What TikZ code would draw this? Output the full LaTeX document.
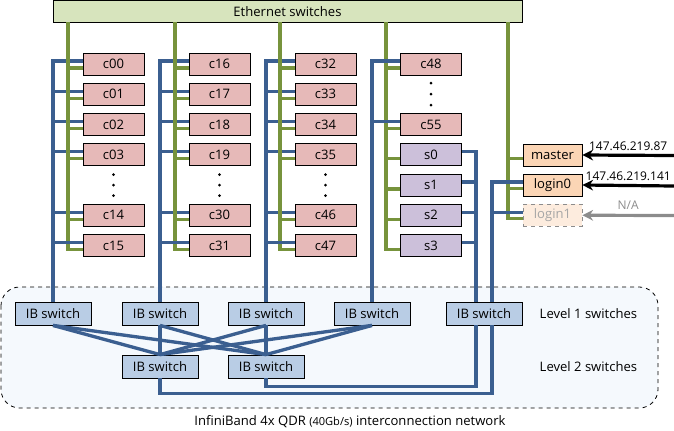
\documentclass[tikz,border=0pt]{standalone}
\usepackage{fontspec}
\setmainfont{Open Sans}
\usetikzlibrary{calc,arrows.meta}
\definecolor{ethline}{HTML}{77933C}
\definecolor{ethfill}{HTML}{D7E4BD}
\definecolor{ibline}{HTML}{3B5F90}
\definecolor{ibfill}{HTML}{B9CDE5}
\definecolor{cfill}{HTML}{E6B9B8}
\definecolor{sfill}{HTML}{CCC0DA}
\definecolor{mfill}{HTML}{FBD5B5}
\definecolor{netfill}{HTML}{F5F9FD}

\begin{document}
\begin{tikzpicture}[x=0.75pt, y=-0.75pt, font=\fontsize{9.8}{11}\selectfont,
	box/.style={draw=black, line width=0.6pt, inner sep=0pt, minimum height=16.5pt},
	cbox/.style={box, fill=cfill, minimum width=45.75pt},
	sbox/.style={box, fill=sfill, minimum width=45.75pt},
	mbox/.style={box, fill=mfill, minimum width=44.25pt},
	ibbox/.style={box, fill=ibfill, minimum width=57pt, minimum height=17.25pt},
	eth/.style={line width=2.5pt, color=ethline},
	ib/.style={line width=2.5pt, color=ibline},
	ext/.style={line width=2.4pt, -{Stealth[length=8pt, width=8pt]}},
	iplabel/.style={above, inner sep=2.5pt, font=\fontsize{9}{10}\selectfont}]
		%%%%% START %%%%%
		
		\useasboundingbox (0, 0) rectangle (674, 430);
		
		% InfiniBand area
		\draw[dashed, line width=0.6pt, fill=netfill, rounded corners=14pt] (1, 287) rectangle (658, 408);
		\node (cap) at (350, 422) {InfiniBand 4x QDR {\fontsize{8.3}{9}\selectfont(40Gb/s)} interconnection network};
		\node[anchor=west] (lv1) at (535, 313.5) {Level 1 switches};
		\node[anchor=west] (lv2) at (535, 366.5) {Level 2 switches};
		
		\node[ibbox] (ib1) at (53, 313.5) {IB switch};
		\node[ibbox] (ib2) at (160, 313.5) {IB switch};
		\node[ibbox] (ib3) at (266, 313.5) {IB switch};
		\node[ibbox] (ib4) at (372, 313.5) {IB switch};
		\node[ibbox] (ib5) at (484, 313.5) {IB switch};
		\node[ibbox] (l2a) at (160, 366.5) {IB switch};
		\node[ibbox] (l2b) at (266, 366.5) {IB switch};
		
		\foreach \a in {1,2,3,4}
		\foreach \b in {l2a,l2b}
		\draw[ib] (ib\a.south) -- (\b.north);
		
		% Ethernet
		\node[box, fill=ethfill, minimum width=351.75pt, minimum height=16.1pt] (eth) at (287.5, 11.25) {Ethernet switches};
		\coordinate (g1) at (68, 22);
		\coordinate (g2) at (175, 22);
		\coordinate (g3) at (280, 22);
		\coordinate (g4) at (386, 22);
		\coordinate (g5) at (508, 22);
		
		% compute nodes
		\foreach \k/\x/\n in {1/113.5/0, 2/219.5/16, 3/325.5/32}{
			\foreach \i/\m in {0/0, 1/1, 2/2, 3/3, 5/14, 6/15}{
				\pgfmathtruncatemacro{\num}{\n+\m}
				\edef\lbl{c\ifnum\num<10 0\fi\num}
				\node[cbox] (\lbl) at (\x, 64+30.25*\i) {\lbl};
				\draw[eth] ($(\lbl.west)+(0,4)$) -| (g\k);
				\draw[ib] ($(\lbl.west)+(0,-3)$) -| (ib\k.north);
			}
			\foreach \d in {-10.5, 0, 10.5}
			\fill (\x, 185+\d) circle (1.5);
		}
		
		\node[cbox] (c48) at (431, 64) {c48};
		\node[cbox] (c55) at (431, 124.5) {c55};
		\foreach \d in {-11, 0, 11}
		\fill (431, 94+\d) circle (1.5);
		\node[sbox] (s0) at (431, 154.75) {s0};
		\node[sbox] (s1) at (431, 185) {s1};
		\node[sbox] (s2) at (431, 215.25) {s2};
		\node[sbox] (s3) at (431, 245.5) {s3};
		
		\foreach \n in {c48,c55,s0,s1,s2,s3}
		\draw[eth] ($(\n.west)+(0,4)$) -| (g4);
		\foreach \n in {c48,c55}
		\draw[ib] ($(\n.west)+(0,-3)$) -| (ib4.north);
		\foreach \n in {s0,s1,s2,s3}
		\draw[ib] ($(\n.east)+(0,-3)$) -| ($(ib5.north)+(-8,0)$);
		
		% master and login nodes
		\node[mbox] (master) at (552.5, 155) {master};
		\node[mbox] (login0) at (552.5, 185) {login0};
		\node[mbox, draw=black!45, dashed, fill=mfill!45, text=black!35] (login1) at (552.5, 215.25) {login1};
		
		\foreach \n in {master,login0,login1}
		\draw[eth] ($(\n.west)+(0,3.5)$) -| (g5);
		\foreach \n in {login0,login1}
		\draw[ib] ($(\n.west)+(0,-3)$) -| ($(ib5.north)+(8,0)$);
		
		\draw[ib] ($(ib5.south)+(-8,0)$) |- ($(l2b.south)+(0,8)$) -- (l2b.south);
		\draw[ib] ($(ib5.south)+(8,0)$) |- ($(l2a.south)+(0,15)$) -- (l2a.south);
		
		% outside links
		\coordinate (ip0) at (674, 155.5);
		\coordinate (ip1) at (674, 186);
		\coordinate (ip2) at (674, 215.5);
		\draw[ext] (ip0) -- node[iplabel, text=black] {147.46.219.87} (master.east);
		\draw[ext] (ip1) -- node[iplabel, text=black] {147.46.219.141} (login0.east);
		\draw[ext, color=black!45] (ip2) -- node[iplabel, inner sep=3pt] {N/A} (login1.east);
		
		%%%%% END %%%%%
	\end{tikzpicture}
\end{document}
